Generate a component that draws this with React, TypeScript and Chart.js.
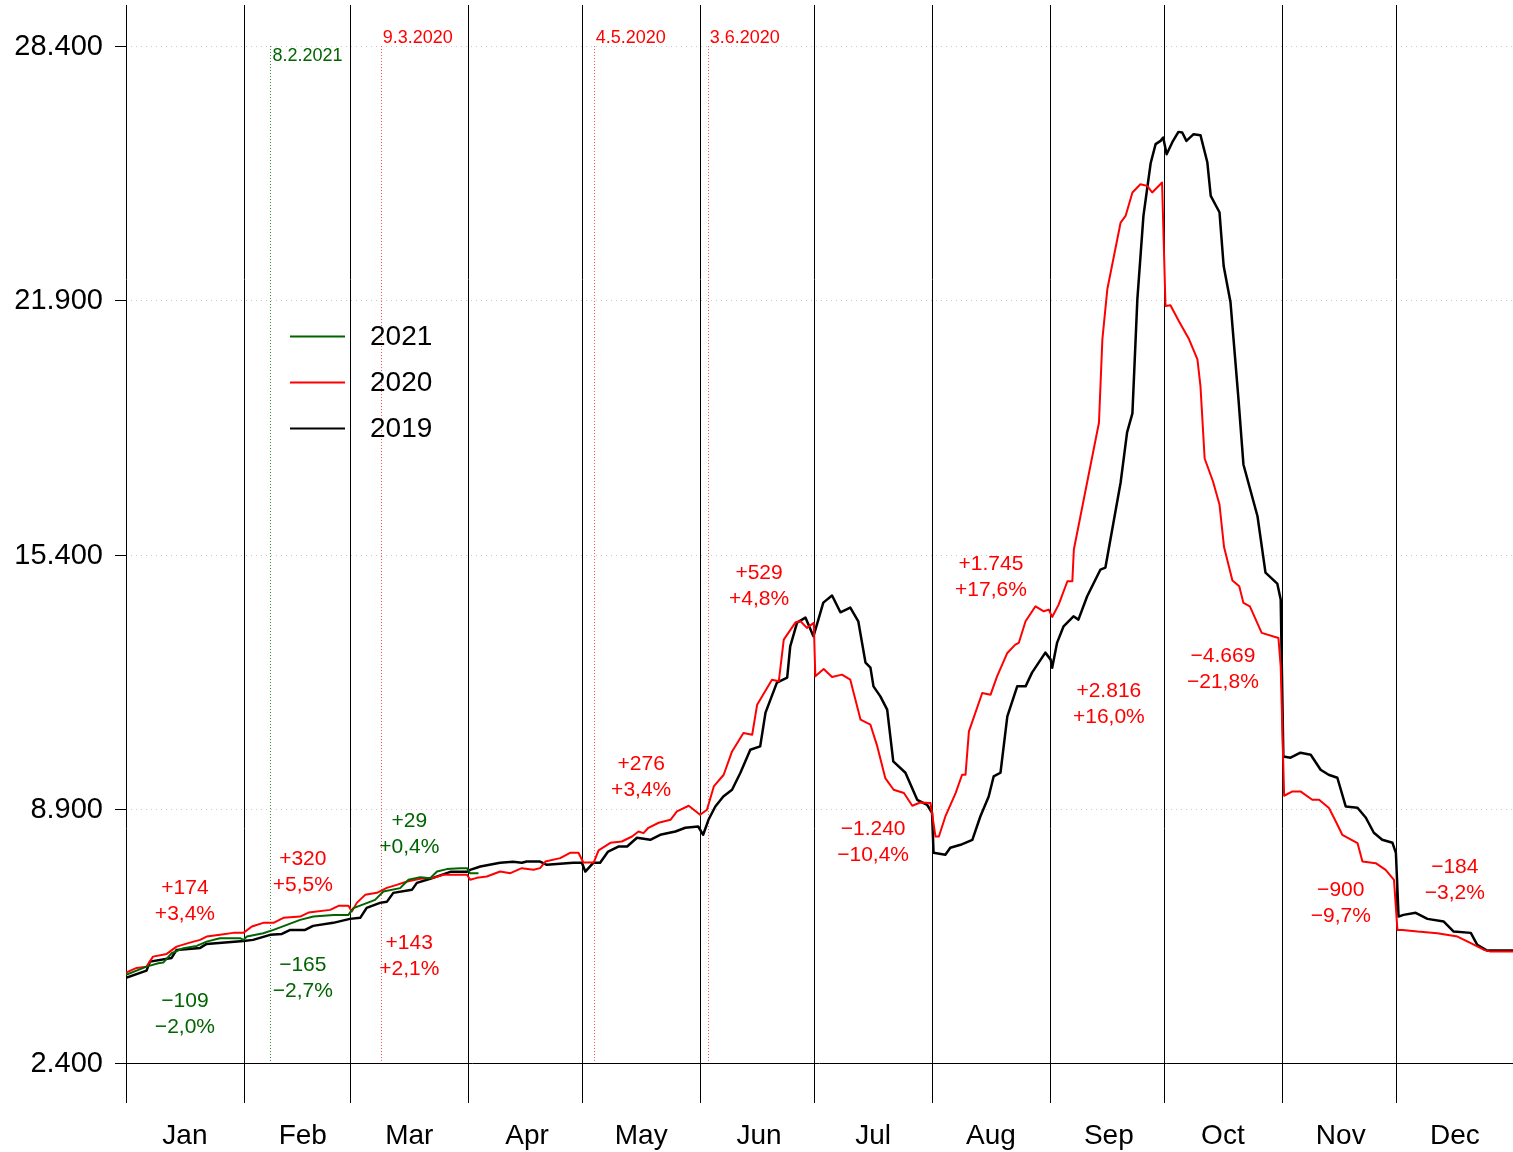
import React, { useEffect, useRef } from "react";
import { Chart, registerables } from "chart.js";

Chart.register(...registerables);

const FONT = '"Liberation Sans", Arial, Helvetica, sans-serif';

const monthLabels = ["Jan", "Feb", "Mar", "Apr", "May", "Jun", "Jul", "Aug", "Sep", "Oct", "Nov", "Dec"];
const monthStarts = [0, 31, 59, 90, 120, 151, 181, 212, 243, 273, 304, 334, 365];
const monthLabelOffset = 15.5;
const yTickValues = [2400, 8900, 15400, 21900, 28400];
const yTickLabels = ["2.400", "8.900", "15.400", "21.900", "28.400"];

const days2019 = [0, 5.4, 6.3, 12, 13.3, 19.5, 21.2, 30.9, 33.4, 37.9, 41, 43.2, 47.1, 49.2, 54.5, 58.9, 61.6, 63.3, 66.8, 68.6, 70.3, 75.2, 76.5, 80, 85.3, 89.7, 90.5, 93.2, 98.4, 101.8, 104.1, 105.4, 108.9, 110.7, 117.6, 119.9, 120.8, 122.9, 124.7, 126.8, 129.5, 131.8, 134.4, 137.9, 140.5, 144.5, 147.1, 150.5, 151.8, 153.2, 155, 157.1, 159.4, 161.6, 164.2, 166.8, 168.2, 171.2, 173.9, 174.7, 176.5, 178.7, 180.8, 182.1, 183.4, 185.7, 187.9, 190.5, 192.6, 194.5, 195.8, 196.6, 198.4, 200.2, 201.8, 205, 208.1, 210.7, 212, 212.4, 215.5, 216.8, 219.5, 222.6, 224.7, 226.9, 228.2, 230, 231.8, 234.4, 236.6, 238.3, 241.8, 243.2, 243.6, 244.9, 246.6, 249.2, 250.5, 252.8, 256.3, 257.6, 261.6, 263.3, 264.7, 266, 267.6, 269.5, 270.8, 272.1, 272.8, 273.7, 275.2, 276.8, 277.8, 278.9, 280.8, 282.6, 284.4, 285.3, 287.6, 288.7, 290.5, 292.6, 293.9, 297.6, 299.7, 302.8, 303.7, 304.4, 306.3, 308.9, 311.6, 314.2, 316.3, 318.6, 320.8, 323.9, 326.1, 328.2, 330.4, 333.1, 334, 334.7, 336, 339.2, 342.3, 346.6, 349.2, 353.7, 355.4, 358, 365];
const values2019 = [4575, 4762, 4992, 5087, 5292, 5343, 5445, 5522, 5548, 5676, 5701, 5803, 5803, 5906, 5983, 6085, 6111, 6366, 6494, 6520, 6750, 6827, 7006, 7109, 7288, 7288, 7339, 7423, 7518, 7544, 7518, 7551, 7551, 7467, 7518, 7518, 7295, 7518, 7518, 7807, 7935, 7935, 8158, 8107, 8235, 8319, 8414, 8447, 8235, 8618, 8959, 9215, 9386, 9821, 10410, 10494, 11357, 12124, 12252, 13053, 13660, 13788, 13309, 13736, 14171, 14351, 13923, 14043, 13693, 12636, 12508, 12030, 11774, 11433, 10110, 9821, 9130, 9002, 8798, 7774, 7723, 7902, 7979, 8107, 8703, 9215, 9726, 9821, 11262, 12030, 12030, 12380, 12892, 12713, 12508, 13148, 13565, 13821, 13736, 14333, 15016, 15067, 17242, 18522, 19008, 21925, 24057, 25405, 25892, 25976, 26063, 25636, 25943, 26206, 26190, 25976, 26148, 26122, 25431, 24569, 24152, 22777, 21848, 19366, 17703, 16380, 14939, 14658, 14248, 10238, 10205, 10333, 10282, 9898, 9770, 9693, 8959, 8925, 8670, 8286, 8107, 8030, 7774, 6144, 6187, 6239, 6085, 6016, 5760, 5727, 5420, 5274, 5274];

const days2020 = [0, 2.8, 5.4, 7.1, 10.7, 13.3, 16.8, 19.5, 21.2, 24.7, 28.2, 30.9, 33.1, 36.1, 38.8, 41.4, 45.8, 48, 53.7, 55.9, 58.5, 59.4, 60.7, 62.9, 66, 68.6, 71.2, 73.9, 77.4, 80.9, 83.5, 89.7, 90.5, 92.3, 94.9, 98.4, 101.1, 104.1, 107.2, 108.9, 110.3, 114.2, 116.8, 119, 120.3, 123, 124.3, 127.4, 130.4, 133.1, 134.8, 136.1, 137.4, 140.1, 143.2, 144.9, 148, 151, 152.8, 154.6, 157.2, 159.4, 162.4, 164.7, 166, 169.9, 171.7, 173, 176.1, 177.4, 179.1, 180.9, 181.3, 183.5, 185.7, 188.3, 190.5, 193.2, 195.8, 197.6, 199.7, 201.9, 204.6, 206.8, 208.9, 211.6, 212.9, 213.8, 215.5, 218.2, 219.9, 220.8, 221.7, 225.2, 227.4, 229.1, 231.8, 233.9, 234.8, 236.6, 239.2, 241.4, 242.7, 243.6, 245.3, 247.6, 248.9, 249.3, 251.9, 255.9, 256.8, 258.1, 261.6, 262.9, 264.7, 266.8, 268.6, 269.9, 272.5, 273.4, 274.7, 276.9, 279.6, 281.8, 282.6, 283.7, 285.9, 287.6, 288.8, 291, 292.8, 293.9, 295.6, 298.7, 303.1, 303.7, 304.6, 306.8, 308.9, 312, 313.8, 316.4, 318.2, 319.9, 323.9, 325.2, 328.7, 331.3, 333.5, 334.4, 335.7, 339.7, 344.9, 350.2, 353.7, 357.2, 358.9, 365];
const values2020 = [4711, 4831, 4864, 5120, 5189, 5376, 5478, 5548, 5632, 5676, 5727, 5727, 5888, 5983, 5983, 6111, 6144, 6246, 6315, 6418, 6418, 6272, 6494, 6699, 6750, 6878, 6955, 7039, 7109, 7134, 7211, 7211, 7083, 7134, 7167, 7295, 7254, 7382, 7339, 7382, 7551, 7638, 7774, 7774, 7526, 7526, 7838, 8030, 8063, 8191, 8319, 8277, 8414, 8542, 8618, 8831, 8977, 8746, 8874, 9471, 9770, 10366, 10837, 10793, 11561, 12201, 12158, 13225, 13667, 13693, 13524, 13652, 12285, 12475, 12270, 12329, 12201, 11177, 11049, 10494, 9685, 9386, 9302, 8977, 9061, 9045, 8191, 8191, 8703, 9302, 9770, 9770, 10878, 11861, 11817, 12285, 12884, 13097, 13140, 13693, 14077, 13949, 13991, 13805, 14120, 14717, 14717, 15528, 16807, 18770, 20902, 22181, 23888, 24057, 24656, 24868, 24825, 24656, 24911, 21754, 21772, 21370, 20902, 20390, 19707, 17856, 17268, 16679, 15592, 14734, 14588, 14164, 14077, 13396, 13268, 12541, 9233, 9343, 9343, 9130, 9130, 8918, 8575, 8235, 8022, 7551, 7510, 7339, 7083, 5803, 5803, 5760, 5719, 5632, 5463, 5292, 5248, 5248];

const days2021 = [0, 5.4, 8.5, 9.8, 12, 15.1, 18.6, 21.2, 24.7, 30, 30.9, 31.8, 36.1, 38.8, 42.3, 45.8, 49.3, 54.6, 58.5, 59.8, 63.3, 65.5, 67.7, 72.1, 74.3, 77.4, 80, 81.8, 84.4, 87.9, 89.7, 90.5, 92.7];
const values2021 = [4652, 4864, 4951, 4967, 5207, 5335, 5394, 5504, 5591, 5591, 5548, 5632, 5719, 5803, 5931, 6059, 6144, 6187, 6187, 6359, 6487, 6571, 6784, 6871, 7083, 7152, 7126, 7295, 7357, 7382, 7382, 7254, 7254];

const RED = "#ff0000";
const GREEN = "#006400";

// month-change annotations: month index, two text lines, value at first line
const annMonth = [0, 0, 1, 1, 2, 2, 4, 5, 6, 7, 8, 9, 10, 11];
const annLine1 = ["+174", "\u2212109", "+320", "\u2212165", "+29", "+143", "+276", "+529", "\u22121.240", "+1.745", "+2.816", "\u22124.669", "\u2212900", "\u2212184"];
const annLine2 = ["+3,4%", "\u22122,0%", "+5,5%", "\u22122,7%", "+0,4%", "+2,1%", "+3,4%", "+4,8%", "\u221210,4%", "+17,6%", "+16,0%", "\u221221,8%", "\u22129,7%", "\u22123,2%"];
const annValue = [6878, 3987, 7620, 4908, 8593, 5471, 10051, 14914, 8388, 15144, 11894, 12790, 6827, 7416];
const annYear = ["2020", "2021", "2020", "2021", "2021", "2020", "2020", "2020", "2020", "2020", "2020", "2020", "2020", "2020"];

// event markers
const eventDays = [38, 67, 123, 153];
const eventLabels = ["8.2.2021", "9.3.2020", "4.5.2020", "3.6.2020"];
const eventYear = ["2021", "2020", "2020", "2020"];

const seriesNames = ["2021", "2020", "2019"];
const seriesColors: Record<string, string> = { "2021": GREEN, "2020": RED, "2019": "#000000" };

function toPoints(d: number[], v: number[]) {
  return d.map((x, i) => ({ x, y: v[i] }));
}

const overlayPlugin = {
  id: "overlay",
  beforeDatasetsDraw(chart: any) {
    const { ctx, chartArea: a, scales } = chart;
    const xs = scales.x;
    const ys = scales.y;
    ctx.save();
    // horizontal dotted grid
    ctx.strokeStyle = "#c8c8c8";
    ctx.lineWidth = 1;
    ctx.setLineDash([1, 4]);
    yTickValues.forEach((v) => {
      const py = Math.round(ys.getPixelForValue(v)) + 0.5;
      ctx.beginPath();
      ctx.moveTo(a.left, py);
      ctx.lineTo(a.right, py);
      ctx.stroke();
    });
    // month boundary lines
    ctx.setLineDash([]);
    ctx.strokeStyle = "#000";
    ctx.lineWidth = 1;
    monthStarts.slice(0, 12).forEach((d) => {
      const px = Math.round(xs.getPixelForValue(d)) + 0.5;
      ctx.beginPath();
      ctx.moveTo(px, a.top);
      ctx.lineTo(px, a.bottom + 40);
      ctx.stroke();
    });
    // x axis line
    const by = Math.round(ys.getPixelForValue(2400)) + 0.5;
    ctx.beginPath();
    ctx.moveTo(a.left, by);
    ctx.lineTo(a.right, by);
    ctx.stroke();
    // y tick marks
    yTickValues.forEach((v) => {
      const py = Math.round(ys.getPixelForValue(v)) + 0.5;
      ctx.beginPath();
      ctx.moveTo(a.left - 11, py);
      ctx.lineTo(a.left, py);
      ctx.stroke();
    });
    // event dotted lines
    ctx.setLineDash([1, 2]);
    eventDays.forEach((d, i) => {
      const px = Math.round(xs.getPixelForValue(d)) + 0.5;
      ctx.strokeStyle = eventYear[i] === "2021" ? "#2e8b2e" : "#ff5050";
      ctx.beginPath();
      ctx.moveTo(px, ys.getPixelForValue(28400));
      ctx.lineTo(px, ys.getPixelForValue(2400));
      ctx.stroke();
    });
    ctx.restore();
  },
  afterDatasetsDraw(chart: any) {
    const { ctx, chartArea: a, scales } = chart;
    const xs = scales.x;
    const ys = scales.y;
    ctx.save();
    // y tick labels
    ctx.fillStyle = "#000";
    ctx.font = `29px ${FONT}`;
    ctx.textAlign = "right";
    ctx.textBaseline = "middle";
    yTickValues.forEach((v, i) => {
      ctx.fillText(yTickLabels[i], a.left - 23, ys.getPixelForValue(v) + 1);
    });
    // month labels
    ctx.font = `28px ${FONT}`;
    ctx.textAlign = "center";
    ctx.textBaseline = "alphabetic";
    monthLabels.forEach((m, i) => {
      const cx = xs.getPixelForValue(monthStarts[i] + monthLabelOffset);
      ctx.fillText(m, cx, a.bottom + 81);
    });
    // event labels
    ctx.font = `18px ${FONT}`;
    ctx.textAlign = "left";
    ctx.textBaseline = "middle";
    eventDays.forEach((d, i) => {
      const px = xs.getPixelForValue(d) + 2;
      const py = ys.getPixelForValue(28400) + (eventYear[i] === "2021" ? 10 : -8);
      ctx.fillStyle = eventYear[i] === "2021" ? GREEN : RED;
      ctx.fillText(eventLabels[i], px, py);
    });
    // annotations
    ctx.font = `21px ${FONT}`;
    ctx.textAlign = "center";
    annMonth.forEach((m, i) => {
      const cx = xs.getPixelForValue(monthStarts[m] + monthLabelOffset);
      const py = ys.getPixelForValue(annValue[i]);
      ctx.fillStyle = annYear[i] === "2021" ? GREEN : RED;
      ctx.fillText(annLine1[i], cx, py);
      ctx.fillText(annLine2[i], cx, py + 26);
    });
    // legend
    ctx.font = `28px ${FONT}`;
    ctx.textAlign = "left";
    seriesNames.forEach((name, i) => {
      const ly = a.top + 331 + i * 46;
      ctx.strokeStyle = seriesColors[name];
      ctx.lineWidth = 2;
      ctx.beginPath();
      ctx.moveTo(a.left + 164, ly + 0.5);
      ctx.lineTo(a.left + 219, ly + 0.5);
      ctx.stroke();
      ctx.fillStyle = "#000";
      ctx.fillText(name, a.left + 244, ly + 1);
    });
    ctx.restore();
  },
};

export default function App() {
  const canvasRef = useRef<HTMLCanvasElement | null>(null);

  useEffect(() => {
    if (!canvasRef.current) return;
    const chart = new Chart(canvasRef.current, {
      type: "line",
      data: {
        datasets: [
          {
            label: "2021",
            data: toPoints(days2021, values2021),
            borderColor: GREEN,
            borderWidth: 2,
            pointRadius: 0,
            tension: 0,
            borderJoinStyle: "round",
          },
          {
            label: "2020",
            data: toPoints(days2020, values2020),
            borderColor: RED,
            borderWidth: 2,
            pointRadius: 0,
            tension: 0,
            borderJoinStyle: "round",
          },
          {
            label: "2019",
            data: toPoints(days2019, values2019),
            borderColor: "#000000",
            borderWidth: 2.5,
            pointRadius: 0,
            tension: 0,
            borderJoinStyle: "round",
          },
        ],
      },
      options: {
        responsive: false,
        animation: false,
        devicePixelRatio: 1,
        layout: { padding: { left: 126, right: 0, top: 5, bottom: 89 } },
        plugins: { legend: { display: false }, tooltip: { enabled: false } },
        scales: {
          x: { type: "linear", min: 0, max: 364.8, display: false },
          y: { type: "linear", min: 2400, max: 29450, display: false },
        },
      },
      plugins: [overlayPlugin],
    } as any);
    return () => chart.destroy();
  }, []);

  return (
    <div style={{ position: "absolute", left: 0, top: 0, width: 1513, height: 1152, background: "#fff" }}>
      <canvas ref={canvasRef} width={1513} height={1152} style={{ display: "block" }} />
    </div>
  );
}
